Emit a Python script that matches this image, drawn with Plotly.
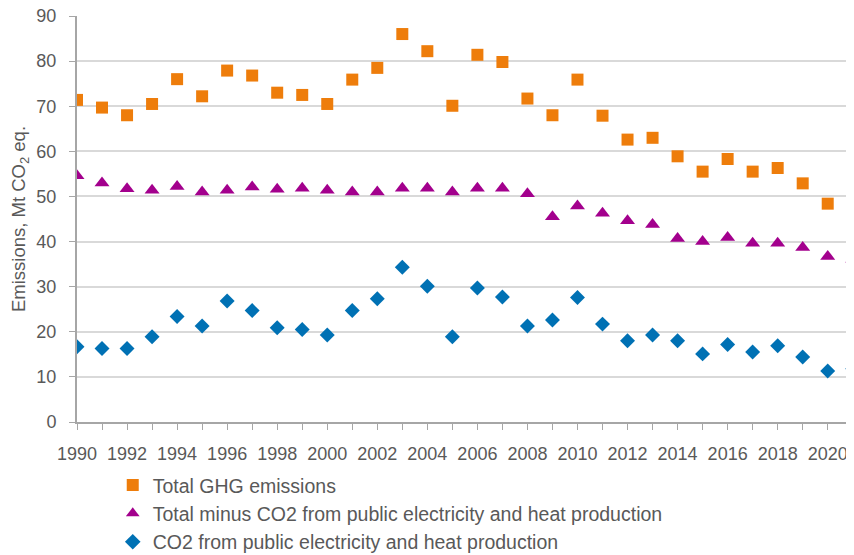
import plotly.graph_objects as go

years = list(range(1990, 2022))

total_ghg = [71.4, 69.7, 68.0, 70.5, 76.0, 72.2, 77.9, 76.8, 73.0, 72.5,
             70.5, 75.9, 78.5, 86.0, 82.2, 70.1, 81.4, 79.8, 71.7, 68.0,
             75.9, 67.9, 62.6, 63.0, 58.9, 55.5, 58.3, 55.5, 56.3, 52.9,
             48.4, 48.4]

total_minus_power = [54.6, 53.0, 51.7, 51.4, 52.2, 51.0, 51.4, 52.1, 51.6, 51.8,
                     51.4, 51.0, 51.0, 51.8, 51.8, 51.0, 51.8, 51.8, 50.6, 45.5,
                     47.9, 46.3, 44.6, 43.8, 40.7, 40.0, 40.9, 39.6, 39.6, 38.7,
                     36.7, 36.1]

power_co2 = [16.7, 16.3, 16.3, 18.9, 23.4, 21.3, 26.8, 24.7, 20.9, 20.5,
             19.3, 24.7, 27.3, 34.3, 30.1, 18.9, 29.7, 27.7, 21.3, 22.6,
             27.6, 21.7, 18.0, 19.3, 18.0, 15.1, 17.2, 15.5, 16.9, 14.4,
             11.3, 11.8]

series = [
    ("Total GHG emissions", total_ghg, "square", "#EE7D0B", 12),
    ("Total minus CO2 from public electricity and heat production",
     total_minus_power, "triangle-up", "#A3008D", 13),
    ("CO2 from public electricity and heat production", power_co2,
     "diamond", "#0071B4", 11.5),
]

fig = go.Figure()
for i, (name, vals, sym, col, sz) in enumerate(series):
    fig.add_trace(go.Scatter(
        x=years, y=vals, name=name, mode="markers", legendgroup=str(i),
        marker=dict(symbol=sym, color=col, size=sz, line=dict(width=0)),
    ))

grey = "#595959"
axis_grey = "#A6A6A6"
# page body adds an 8px margin, so shift the figure up/left to compensate
fig.update_layout(
    width=846, height=555,
    margin=dict(l=69, r=0, t=8, b=141),
    paper_bgcolor="white", plot_bgcolor="white",
    font=dict(family="Liberation Sans, Arial, sans-serif", size=18, color=grey),
    showlegend=True,
    legend=dict(x=0.046, y=-0.108, xanchor="left", yanchor="top",
                font=dict(size=19.5, color=grey), tracegroupgap=0,
                itemsizing="constant"),
    xaxis=dict(
        range=[1990, 2021.05], tickmode="linear", tick0=1990, dtick=2,
        ticks="outside", ticklen=6, tickcolor=axis_grey,
        showline=True, linecolor=axis_grey, linewidth=2,
        showgrid=False, zeroline=False, automargin=False,
        ticklabelstandoff=8, ticklabeloverflow="allow",
        minor=dict(dtick=1, ticks="outside", ticklen=6, tickcolor=axis_grey),
    ),
    yaxis=dict(
        range=[0, 90], tickmode="linear", tick0=0, dtick=10,
        ticks="outside", ticklen=6, tickcolor=axis_grey,
        showline=True, linecolor=axis_grey, linewidth=2,
        showgrid=True, gridcolor="#D9D9D9", gridwidth=1.5,
        zeroline=False, automargin=False,
        ticklabelstandoff=9, ticklabeloverflow="allow",
        title=dict(text="Emissions, Mt CO<sub>2</sub> eq.", standoff=6,
                   font=dict(size=18.5, color=grey)),
    ),
)

fig.write_html("out.html")
